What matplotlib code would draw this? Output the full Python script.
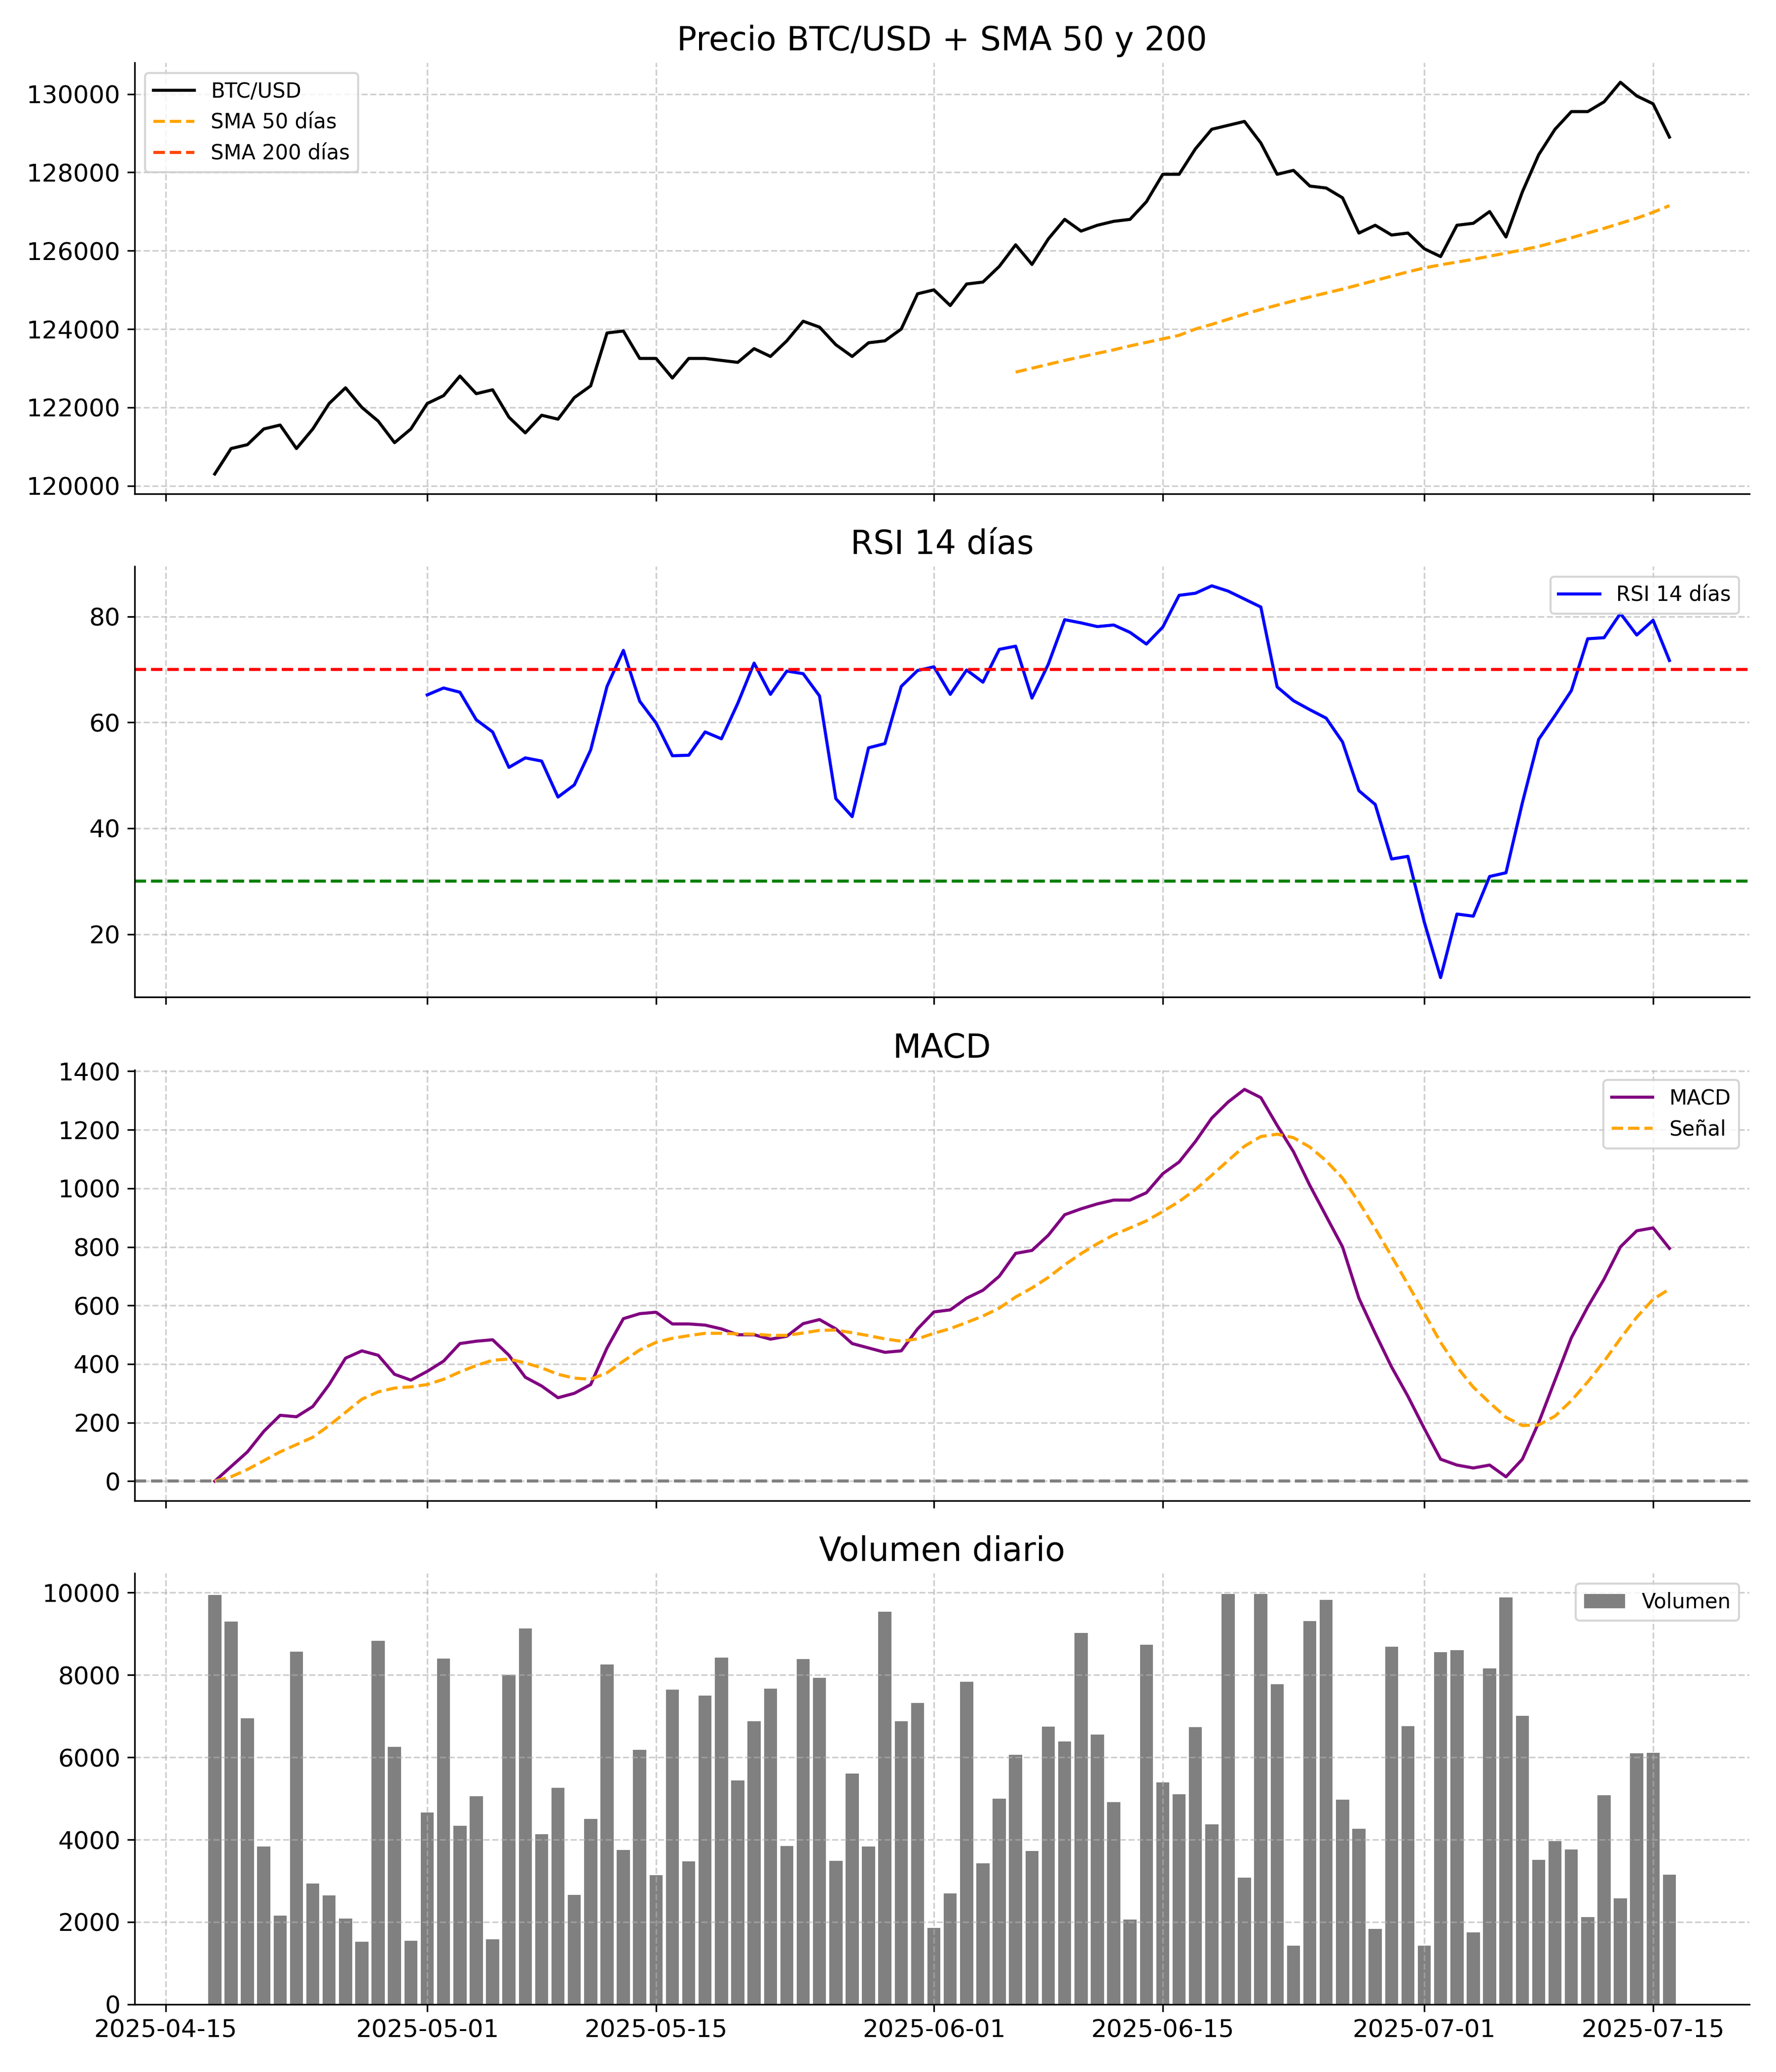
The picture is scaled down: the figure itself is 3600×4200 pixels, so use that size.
import pandas as pd
import matplotlib.pyplot as plt

dates = pd.date_range("2025-04-18", "2025-07-16", freq="D")

price = [120300, 120950, 121050, 121450, 121550, 120950, 121450, 122100, 122500, 122000,
         121650, 121100, 121450, 122100, 122300, 122800, 122350, 122450, 121750, 121350,
         121800, 121700, 122250, 122550, 123900, 123950, 123250, 123250, 122750, 123250,
         123250, 123200, 123150, 123500, 123300, 123700, 124200, 124050, 123600, 123300,
         123650, 123700, 124000, 124900, 125000, 124600, 125150, 125200, 125600, 126150,
         125650, 126300, 126800, 126500, 126650, 126750, 126800, 127250, 127950, 127950,
         128600, 129100, 129200, 129300, 128750, 127950, 128050, 127650, 127600, 127350,
         126450, 126650, 126400, 126450, 126050, 125850, 126650, 126700, 127000, 126350,
         127500, 128450, 129100, 129550, 129550, 129800, 130300, 129950, 129750, 128900]

sma50 = [None] * 49 + [
    122900, 123000, 123100, 123200, 123290, 123380, 123470, 123570, 123660, 123750,
    123840, 124000, 124120, 124250, 124380, 124500, 124610, 124720, 124820, 124920,
    125020, 125130, 125240, 125350, 125460, 125560, 125640, 125710, 125780, 125860,
    125940, 126020, 126110, 126220, 126330, 126450, 126570, 126700, 126830, 126980,
    127150]

rsi = [None] * 13 + [
    65.2, 66.5, 65.7, 60.5, 58.2, 51.5, 53.3, 52.7, 45.9, 48.2,
    54.8, 66.8, 73.6, 64.0, 59.9, 53.7, 53.8, 58.2, 56.9, 63.6,
    71.2, 65.3, 69.7, 69.2, 65.0, 45.6, 42.2, 55.2, 56.0, 66.8,
    69.8, 70.5, 65.3, 69.9, 67.6, 73.8, 74.4, 64.6, 71.0, 79.4,
    78.8, 78.1, 78.4, 77.0, 74.8, 78.0, 84.0, 84.4, 85.8, 84.8,
    83.3, 81.8, 66.7, 64.1, 62.4, 60.8, 56.3, 47.1, 44.5, 34.2,
    34.7, 22.3, 11.8, 23.8, 23.4, 30.9, 31.6, 44.8, 56.8, 61.3,
    66.0, 75.8, 76.0, 80.6, 76.5, 79.3, 71.7]

macd = [0, 50, 100, 170, 225, 220, 255, 330, 420, 445,
        430, 365, 345, 375, 410, 470, 478, 483, 430, 355,
        325, 285, 300, 330, 455, 555, 572, 577, 537, 537,
        533, 520, 500, 500, 485, 495, 538, 552, 520, 470,
        455, 440, 445, 520, 578, 585, 625, 652, 700, 778,
        788, 840, 910, 930, 947, 960, 960, 985, 1050, 1090,
        1160, 1240, 1295, 1338, 1310, 1215, 1125, 1010, 905, 800,
        625, 505, 390, 290, 180, 75, 55, 45, 55, 15,
        75, 200, 345, 490, 595, 690, 800, 855, 865, 795]

signal = [0, 15, 40, 70, 100, 125, 150, 190, 235, 280,
          305, 318, 322, 330, 348, 373, 395, 413, 417, 404,
          387, 365, 352, 348, 370, 410, 448, 474, 488, 497,
          505, 505, 503, 502, 498, 498, 506, 515, 516, 507,
          497, 486, 478, 486, 505, 521, 542, 564, 591, 629,
          660, 696, 739, 777, 811, 841, 865, 889, 921, 955,
          996, 1045, 1095, 1144, 1177, 1185, 1173, 1141, 1094, 1035,
          953, 863, 768, 672, 574, 474, 390, 321, 268, 218,
          190, 192, 222, 275, 339, 409, 487, 560, 621, 656]

volume = [9950, 9300, 6950, 3830, 2150, 8570, 2930, 2650, 2080, 1520,
          8830, 6250, 1540, 4660, 8400, 4340, 5060, 1580, 8000, 9130,
          4130, 5260, 2660, 4500, 8260, 3750, 6180, 3140, 7640, 3470,
          7500, 8420, 5440, 6880, 7670, 3850, 8390, 7930, 3480, 5610,
          3830, 9540, 6880, 7320, 1860, 2690, 7840, 3430, 5000, 6060,
          3730, 6750, 6390, 9020, 6550, 4910, 2060, 8730, 5390, 5100,
          6730, 4370, 9970, 3080, 9970, 7770, 1430, 9310, 9830, 4970,
          4270, 1830, 8690, 6760, 1420, 8550, 8600, 1750, 8160, 9890,
          7010, 3510, 3960, 3760, 2120, 5080, 2570, 6100, 6110, 3150]

plt.rcParams.update({"font.size": 12})
fig, axes = plt.subplots(4, 1, figsize=(12, 14), sharex=True)
ax1, ax2, ax3, ax4 = axes

ax1.plot(dates, price, color="black", lw=1.5, label="BTC/USD")
ax1.plot(dates, sma50, color="orange", ls="--", lw=1.5, label="SMA 50 días")
ax1.plot([], [], color="orangered", ls="--", lw=1.5, label="SMA 200 días")
ax1.set_title("Precio BTC/USD + SMA 50 y 200", fontsize=16)
ax1.legend(loc="upper left", fontsize=10)

ax2.plot(dates, rsi, color="blue", lw=1.5, label="RSI 14 días")
ax2.axhline(70, color="red", ls="--", lw=1.5)
ax2.axhline(30, color="green", ls="--", lw=1.5)
ax2.set_title("RSI 14 días", fontsize=16)
ax2.legend(loc="upper right", fontsize=10)

ax3.plot(dates, macd, color="purple", lw=1.5, label="MACD")
ax3.plot(dates, signal, color="orange", ls="--", lw=1.5, label="Señal")
ax3.axhline(0, color="gray", ls="--", lw=1.5)
ax3.set_title("MACD", fontsize=16)
ax3.legend(loc="upper right", fontsize=10)

ax4.bar(dates, volume, color="gray", width=0.8, label="Volumen")
ax4.set_title("Volumen diario", fontsize=16)
ax4.legend(loc="upper right", fontsize=10)

for ax in axes:
    ax.grid(True, ls="--", alpha=0.6)
    ax.spines["top"].set_visible(False)
    ax.spines["right"].set_visible(False)
    ax.tick_params(labelbottom=True)
for ax in axes[:3]:
    ax.tick_params(labelbottom=False)

plt.tight_layout()
plt.savefig("out.png", dpi=300)
